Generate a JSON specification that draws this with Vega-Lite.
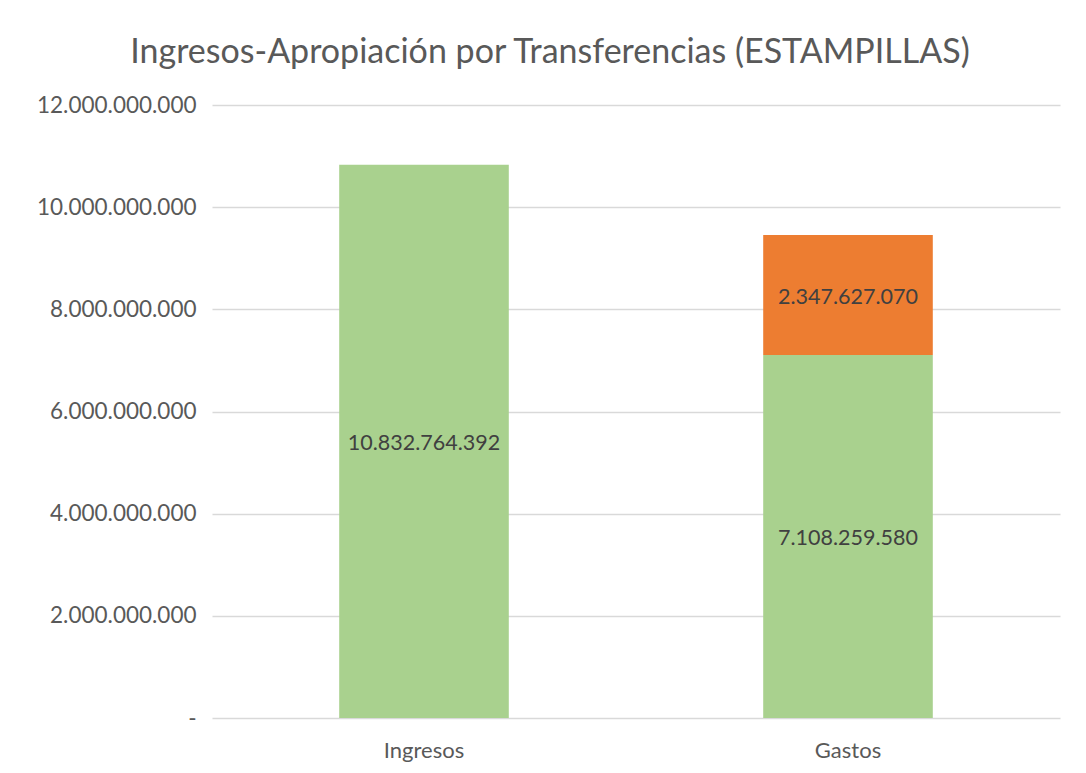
{
  "$schema": "https://vega.github.io/schema/vega-lite/v6.json",
  "width": 848,
  "height": 613,
  "autosize": {"type": "none"},
  "padding": {"left": 212, "top": 105, "right": 26, "bottom": 55},
  "background": "white",
  "config": {
    "locale": {"number": {"decimal": ",", "thousands": ".", "grouping": [3], "currency": ["$", ""]}},
    "view": {"stroke": null},
    "font": "Lato"
  },
  "title": {
    "text": "Ingresos-Apropiación por Transferencias (ESTAMPILLAS)",
    "fontSize": 34,
    "fontWeight": "normal",
    "color": "#595959",
    "font": "Lato",
    "anchor": "middle",
    "dx": -86,
    "offset": 24
  },
  "data": {
    "values": [
      {"categoria": "Ingresos", "tipo": "Base", "valor": 10832764392},
      {"categoria": "Gastos", "tipo": "Base", "valor": 7108259580},
      {"categoria": "Gastos", "tipo": "Adicional", "valor": 2347627070}
    ]
  },
  "transform": [
    {"calculate": "datum.tipo === 'Base' ? 0 : 1", "as": "orden"},
    {"stack": "valor", "groupby": ["categoria"], "sort": [{"field": "orden", "order": "ascending"}], "as": ["v0", "v1"]},
    {"calculate": "(datum.v0 + datum.v1) / 2", "as": "medio"}
  ],
  "encoding": {
    "x": {
      "field": "categoria",
      "type": "nominal",
      "sort": ["Ingresos", "Gastos"],
      "scale": {"paddingInner": 0.6, "paddingOuter": 0.3},
      "axis": {
        "title": null,
        "labelAngle": 0,
        "labelFontSize": 22,
        "labelColor": "#595959",
        "labelPadding": 22,
        "ticks": false,
        "domain": false
      }
    }
  },
  "layer": [
    {
      "mark": {"type": "bar"},
      "encoding": {
        "y": {
          "field": "v0",
          "type": "quantitative",
          "scale": {"domain": [0, 12000000000]},
          "axis": {
            "title": null,
            "values": [0, 2000000000, 4000000000, 6000000000, 8000000000, 10000000000, 12000000000],
            "format": ",.0f",
            "labelExpr": "datum.value === 0 ? '-' : datum.label",
            "labelOverlap": false,
            "labelFontSize": 22.5,
            "labelColor": "#595959",
            "labelPadding": 16,
            "ticks": false,
            "domain": false,
            "gridColor": "#D9D9D9",
            "gridWidth": 1.3
          }
        },
        "y2": {"field": "v1"},
        "color": {
          "field": "tipo",
          "type": "nominal",
          "scale": {"domain": ["Base", "Adicional"], "range": ["#A9D18E", "#ED7D31"]},
          "legend": null
        }
      }
    },
    {
      "mark": {"type": "text", "fontSize": 21.5, "color": "#404040", "baseline": "middle", "dy": 3},
      "encoding": {
        "y": {"field": "medio", "type": "quantitative"},
        "text": {"field": "valor", "type": "quantitative", "format": ",.0f"}
      }
    }
  ]
}
